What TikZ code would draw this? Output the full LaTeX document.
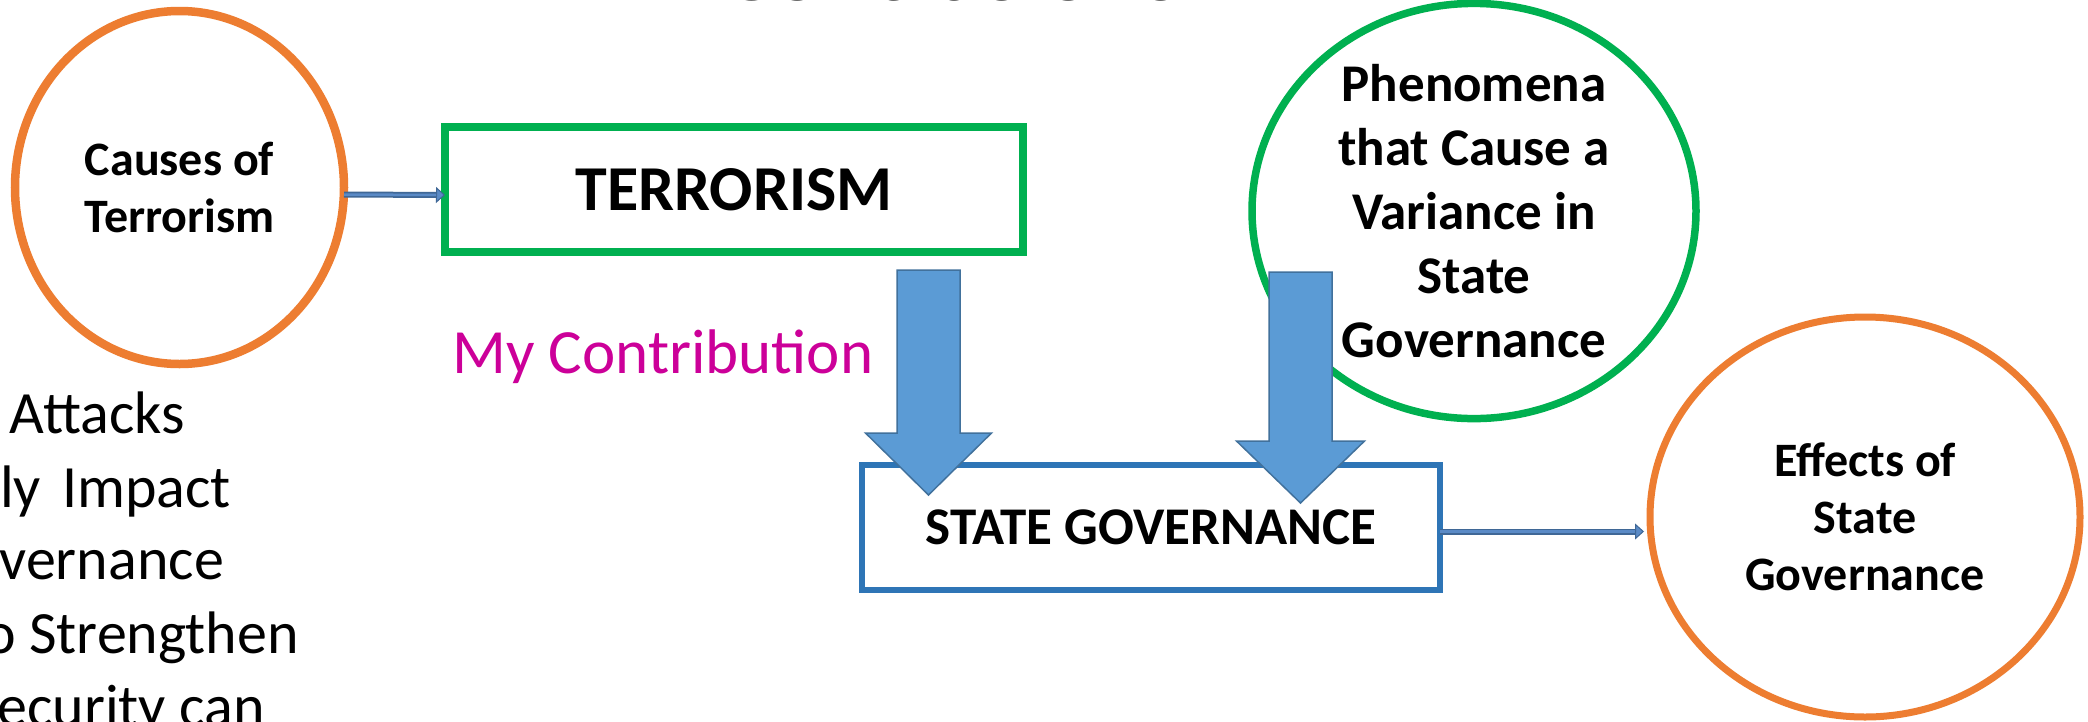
\documentclass[tikz,border=0pt]{standalone}
\usepackage{fontspec}
\setmainfont{Carlito}
\usetikzlibrary{shapes.geometric,arrows.meta,calc}
\definecolor{corange}{HTML}{ED7D31}
\definecolor{cgreen}{HTML}{00B050}
\definecolor{cbox}{HTML}{2E75B6}
\definecolor{carrow}{HTML}{5B9BD5}
\definecolor{carrowd}{HTML}{41719C}
\definecolor{cthin}{HTML}{5A8AC6}
\definecolor{cthind}{HTML}{3F6796}
\definecolor{cmag}{HTML}{CC0099}
\definecolor{ctitle}{HTML}{262626}
\newcommand\downblock[4]{% top coord, tip coord, half shaft, half head
  \filldraw[bigarr] ($(#1)+(-#3,0)$) -- ($(#1)+(#3,0)$) -- ($(#2)+(#3,-62)$) -- ($(#2)+(#4,-62)$) -- (#2) -- ($(#2)+(-#4,-62)$) -- ($(#2)+(-#3,-62)$) -- cycle;}
\begin{document}
\begin{tikzpicture}[x=1pt,y=-1pt,
  circ/.style={ellipse, fill=white, inner sep=0pt, outer sep=0pt, align=center, font=\bfseries\fontsize{48}{57}\selectfont},
  boxnode/.style={rectangle, fill=white, inner sep=0pt, outer sep=0pt, minimum width=578pt, minimum height=125pt},
  bigarr/.style={fill=carrow, draw=carrowd, line width=1.5pt, line join=miter},
  thinconn/.style={draw=cthind, line width=6pt, -{Triangle[length=9pt,width=16pt,line width=1pt,fill=cthin]}},
  thininner/.style={draw=cthin, line width=2.5pt, shorten >=9pt},
  lefttxt/.style={anchor=base east, inner sep=0pt, font=\fontsize{60}{73}\selectfont}]
\useasboundingbox (0,0) rectangle (2088,721);
\fill[white] (0,0) rectangle (2088,721);

% title, mostly above the page
\node[anchor=base, inner sep=0pt, text=ctitle, font=\bfseries\fontsize{93}{100}\selectfont] (title) at (952,0.5) {Conclusions};

% left text fragments
\node[lefttxt] (l1) at (185,433) {Attacks};
\node[lefttxt] (l2) at (231,507) {ly\hspace{21pt}Impact};
\node[lefttxt] (l3) at (224,579) {vernance};
\node[lefttxt] (l4) at (299,653) {o Strengthen};
\node[lefttxt] (l5) at (265,726) {ecurity can};

% circles
\node[circ, draw=corange, line width=8.5pt, minimum width=329pt, minimum height=353pt] (causes) at (179.5,187.5) {Causes of\\Terrorism};
\node[circ, draw=cgreen, line width=7.5pt, minimum width=444pt, minimum height=414pt, font=\bfseries\fontsize{53}{64}\selectfont] (phen) at (1474,211) {Phenomena\\that Cause a\\Variance in\\State\\Governance};
\node[circ, draw=corange, line width=7pt, minimum width=430pt, minimum height=400pt] (effects) at (1865,517) {Effects of\\State\\Governance};

% boxes
\node[boxnode, draw=cgreen, line width=8pt, font=\bfseries\fontsize{64}{70}\selectfont] (terror) at (734,189.5) {TERRORISM};
\node[boxnode, draw=cbox, line width=6pt, font=\bfseries\fontsize{53}{60}\selectfont] (sg) at (1151,527.5) {STATE GOVERNANCE};

% my contribution
\node[anchor=base west, inner sep=0pt, text=cmag, font=\fontsize{63}{70}\selectfont] (contrib) at (452,373) {My Contribution};

% thin connectors
\draw[thinconn] ([yshift=-7pt]causes.east) -- ([yshift=-5.5pt]terror.west);
\draw[thininner] ([yshift=-7pt]causes.east) -- ([yshift=-5.5pt]terror.west);
\draw[thinconn, shorten >=6pt] ([yshift=-4pt]sg.east) -- ([yshift=-4pt]sg.east -| effects.west);
\draw[thininner, shorten >=15pt] ([yshift=-4pt]sg.east) -- ([yshift=-4pt]sg.east -| effects.west);

% block arrows
\coordinate (a1top) at ($(terror.south)+(194.5,18)$);
\coordinate (a1tip) at (928.5,495);
\coordinate (a2top) at (1300.5,272);
\coordinate (a2tip) at (1300.5,503);
\downblock{a1top}{a1tip}{31.5}{63}
\downblock{a2top}{a2tip}{31.5}{64}
\end{tikzpicture}
\end{document}
